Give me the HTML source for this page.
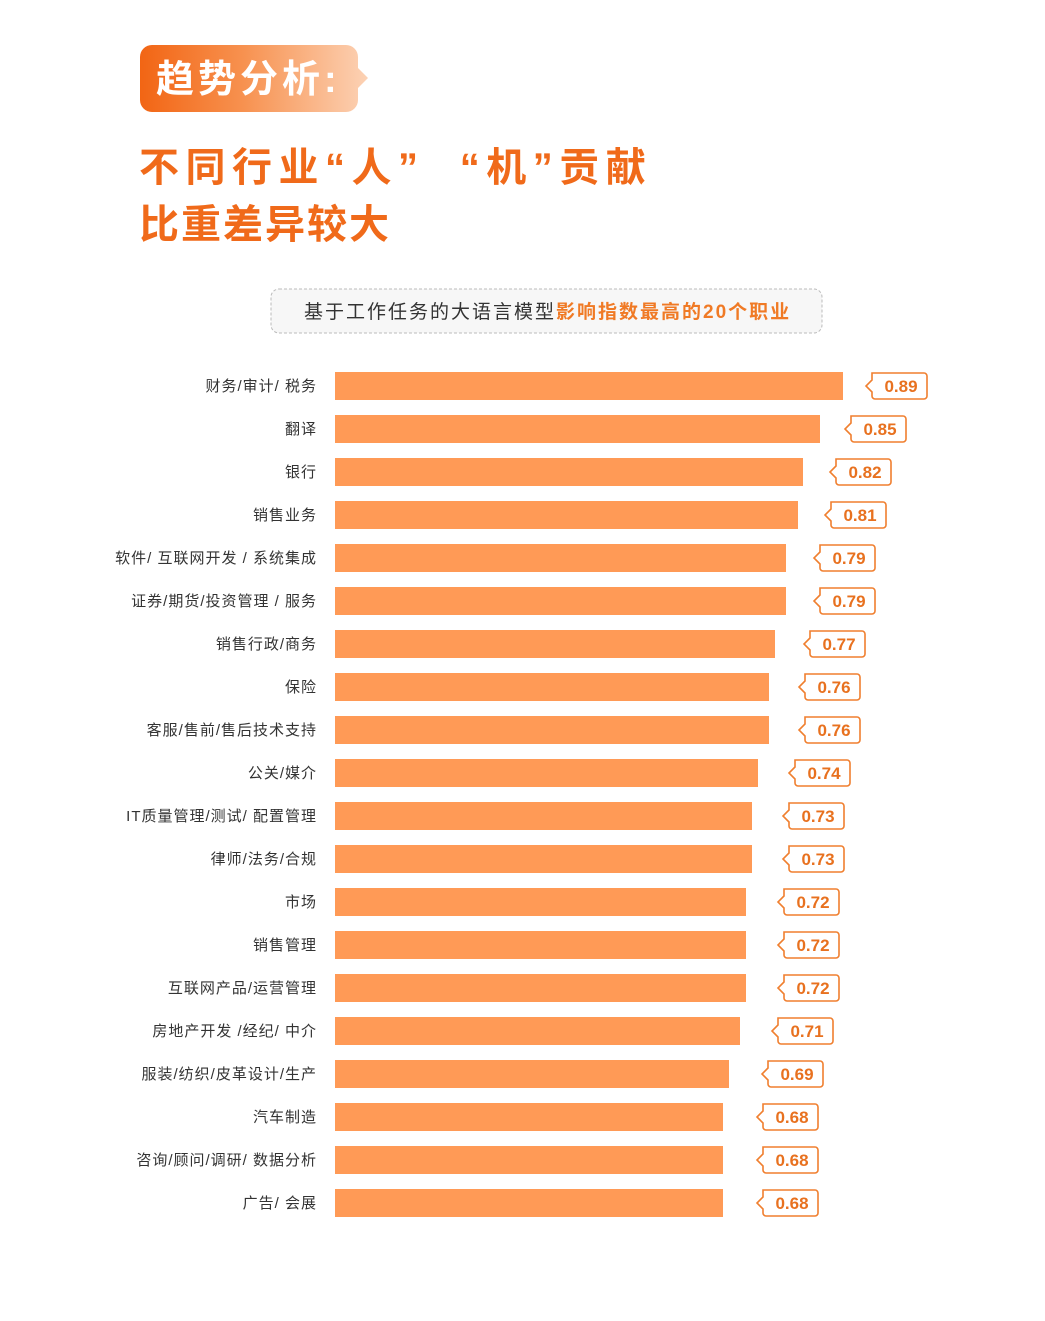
<!DOCTYPE html>
<html><head><meta charset="utf-8"><style>
html,body{margin:0;padding:0;background:#fff}
svg{display:block}
text{font-family:"Liberation Sans","Noto Sans CJK SC",sans-serif}
</style></head><body>
<svg width="1045" height="1321" viewBox="0 0 1045 1321" xmlns="http://www.w3.org/2000/svg">
<defs>
<linearGradient id="g" x1="0" x2="1" y1="0" y2="0">
<stop offset="0" stop-color="#f26514"/><stop offset="0.45" stop-color="#f7914f"/><stop offset="1" stop-color="#fcd2b5"/>
</linearGradient>
<path id="b" d="M6,-13 H58 a3,3 0 0 1 3,3 V10 a3,3 0 0 1 -3,3 H9 a3,3 0 0 1 -3,-3 V6 L0,0 L6,-6 Z" fill="#fff" stroke="#f07f2f" stroke-width="1.6"/>
</defs>
<path d="M152,45 H346 a12,12 0 0 1 12,12 V68 L368,78 L358,88 V100 a12,12 0 0 1 -12,12 H152 a12,12 0 0 1 -12,-12 V57 a12,12 0 0 1 12,-12 Z" fill="url(#g)"/>
<text x="156" y="92" font-size="38" font-weight="bold" fill="#fff" letter-spacing="4">趋势分析:</text>
<text x="139" y="181" font-size="40" font-weight="bold" fill="#f06a1a" letter-spacing="6.5" xml:space="preserve">不同行业“人”  “机”贡献</text>
<text x="139" y="238" font-size="40" font-weight="bold" fill="#f06a1a" letter-spacing="2">比重差异较大</text>
<rect x="271" y="289" width="551" height="44" rx="8" fill="#f7f7f7" stroke="#bbb" stroke-dasharray="3,2"/>
<text x="304" y="318" font-size="19" fill="#333" letter-spacing="2">基于工作任务的大语言模型<tspan fill="#f07a25" font-weight="bold">影响指数最高的20个职业</tspan></text>
<g fill="#ff9a56">
<rect x="335" y="372" width="508" height="28"/>
<rect x="335" y="415" width="485" height="28"/>
<rect x="335" y="458" width="468" height="28"/>
<rect x="335" y="501" width="463" height="28"/>
<rect x="335" y="544" width="451" height="28"/>
<rect x="335" y="587" width="451" height="28"/>
<rect x="335" y="630" width="440" height="28"/>
<rect x="335" y="673" width="434" height="28"/>
<rect x="335" y="716" width="434" height="28"/>
<rect x="335" y="759" width="423" height="28"/>
<rect x="335" y="802" width="417" height="28"/>
<rect x="335" y="845" width="417" height="28"/>
<rect x="335" y="888" width="411" height="28"/>
<rect x="335" y="931" width="411" height="28"/>
<rect x="335" y="974" width="411" height="28"/>
<rect x="335" y="1017" width="405" height="28"/>
<rect x="335" y="1060" width="394" height="28"/>
<rect x="335" y="1103" width="388" height="28"/>
<rect x="335" y="1146" width="388" height="28"/>
<rect x="335" y="1189" width="388" height="28"/>
</g>
<g font-size="15" fill="#333" text-anchor="end" letter-spacing="1">
<text x="317" y="391">财务/审计/ 税务</text>
<text x="317" y="434">翻译</text>
<text x="317" y="477">银行</text>
<text x="317" y="520">销售业务</text>
<text x="317" y="563">软件/ 互联网开发 / 系统集成</text>
<text x="317" y="606">证券/期货/投资管理 / 服务</text>
<text x="317" y="649">销售行政/商务</text>
<text x="317" y="692">保险</text>
<text x="317" y="735">客服/售前/售后技术支持</text>
<text x="317" y="778">公关/媒介</text>
<text x="317" y="821">IT质量管理/测试/ 配置管理</text>
<text x="317" y="864">律师/法务/合规</text>
<text x="317" y="907">市场</text>
<text x="317" y="950">销售管理</text>
<text x="317" y="993">互联网产品/运营管理</text>
<text x="317" y="1036">房地产开发 /经纪/ 中介</text>
<text x="317" y="1079">服装/纺织/皮革设计/生产</text>
<text x="317" y="1122">汽车制造</text>
<text x="317" y="1165">咨询/顾问/调研/ 数据分析</text>
<text x="317" y="1208">广告/ 会展</text>
</g>
<g font-size="17" font-weight="bold" fill="#e8711f" text-anchor="middle">
<g transform="translate(866,386)"><use href="#b"/><text x="35" y="6">0.89</text></g>
<g transform="translate(845,429)"><use href="#b"/><text x="35" y="6">0.85</text></g>
<g transform="translate(830,472)"><use href="#b"/><text x="35" y="6">0.82</text></g>
<g transform="translate(825,515)"><use href="#b"/><text x="35" y="6">0.81</text></g>
<g transform="translate(814,558)"><use href="#b"/><text x="35" y="6">0.79</text></g>
<g transform="translate(814,601)"><use href="#b"/><text x="35" y="6">0.79</text></g>
<g transform="translate(804,644)"><use href="#b"/><text x="35" y="6">0.77</text></g>
<g transform="translate(799,687)"><use href="#b"/><text x="35" y="6">0.76</text></g>
<g transform="translate(799,730)"><use href="#b"/><text x="35" y="6">0.76</text></g>
<g transform="translate(789,773)"><use href="#b"/><text x="35" y="6">0.74</text></g>
<g transform="translate(783,816)"><use href="#b"/><text x="35" y="6">0.73</text></g>
<g transform="translate(783,859)"><use href="#b"/><text x="35" y="6">0.73</text></g>
<g transform="translate(778,902)"><use href="#b"/><text x="35" y="6">0.72</text></g>
<g transform="translate(778,945)"><use href="#b"/><text x="35" y="6">0.72</text></g>
<g transform="translate(778,988)"><use href="#b"/><text x="35" y="6">0.72</text></g>
<g transform="translate(772,1031)"><use href="#b"/><text x="35" y="6">0.71</text></g>
<g transform="translate(762,1074)"><use href="#b"/><text x="35" y="6">0.69</text></g>
<g transform="translate(757,1117)"><use href="#b"/><text x="35" y="6">0.68</text></g>
<g transform="translate(757,1160)"><use href="#b"/><text x="35" y="6">0.68</text></g>
<g transform="translate(757,1203)"><use href="#b"/><text x="35" y="6">0.68</text></g>
</g>
</svg>
</body></html>
